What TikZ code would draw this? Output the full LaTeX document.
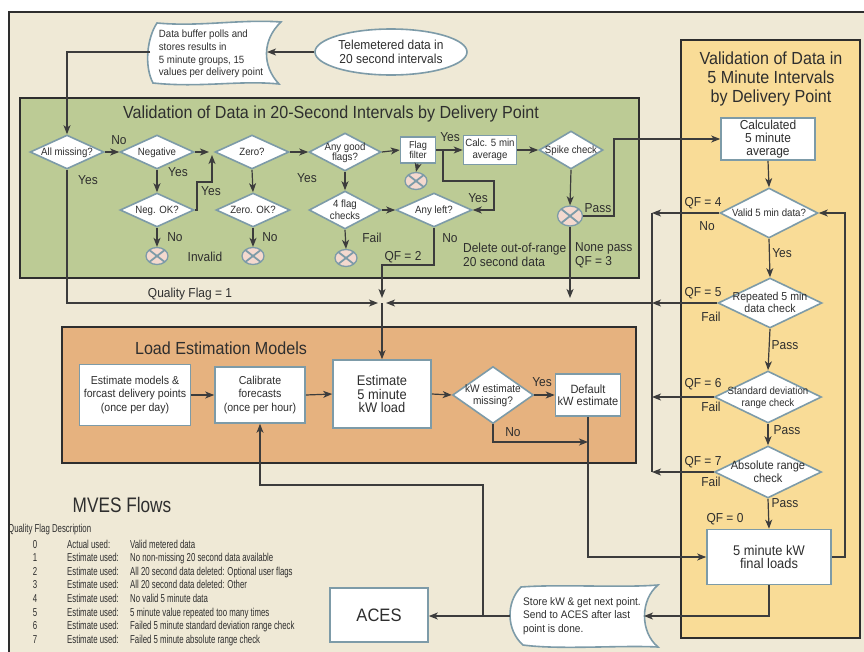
\documentclass[tikz,border=0pt]{standalone}
\usepackage{fontspec}
\setmainfont{Liberation Sans}[FakeStretch=0.92]
\newfontfamily\legendfont{Liberation Sans}[FakeStretch=0.68]
\newfontfamily\narrowfont{Liberation Sans}[FakeStretch=0.82]
\usetikzlibrary{shapes.geometric,arrows.meta,calc}
\definecolor{bgc}{HTML}{EFE9D6}
\definecolor{greenp}{HTML}{BCCB95}
\definecolor{orangep}{HTML}{E6B27F}
\definecolor{yellowp}{HTML}{F9DC97}
\definecolor{nodeb}{HTML}{7D9BA8}
\definecolor{linec}{HTML}{3C3C3C}
\definecolor{txt}{HTML}{2E2E2E}
\definecolor{xfill}{HTML}{F4D9CF}
\definecolor{framec}{HTML}{2E2E2E}
\newcommand\dt[1]{\raisebox{-0.38em}[0pt][0pt]{\makebox[0pt]{\begin{tabular}{@{}c@{}}#1\end{tabular}}}}
\tikzset{
  panel/.style={draw=framec, line width=1.3pt},
  box/.style={draw=nodeb, fill=white, line width=1.6pt, align=center, inner sep=1pt},
  dia/.style={diamond, draw=nodeb, fill=white, line width=1.6pt, inner sep=0pt},
  xm/.style={ellipse, draw=nodeb, fill=xfill, line width=1.3pt, minimum width=22pt, minimum height=17pt, inner sep=0pt,
    path picture={\draw[nodeb, line width=1.8pt] (path picture bounding box.north west) -- (path picture bounding box.south east)
      (path picture bounding box.north east) -- (path picture bounding box.south west);}},
  arr/.style={draw=linec, line width=1.2pt, -{Stealth[length=9pt,width=7pt,inset=2.5pt]}},
  ln/.style={draw=linec, line width=1.2pt},
  lbl/.style={font=\fontsize{13}{14}\selectfont, inner sep=0pt},
  lblm/.style={font=\fontsize{13}{14}\selectfont, inner sep=0pt, align=left},
  leg/.style={font=\legendfont\fontsize{11.5}{12}\selectfont, inner sep=0pt},
}
\begin{document}
\begin{tikzpicture}[x=1pt,y=-1pt, font=\fontsize{11}{12.5}\selectfont, text=txt]
\useasboundingbox (0,0) rectangle (864,651);
\fill[white] (0,0) rectangle (864,651);
\begin{scope}
\clip (0,0) rectangle (864,651);
\draw[fill=bgc, draw=framec, line width=1.5pt] (9,12) rectangle (900,700);
\end{scope}

% panels
\draw[panel, fill=greenp] (20,98) rectangle (639,278);
\draw[panel, fill=orangep] (62,327) rectangle (636,463);
\draw[panel, fill=yellowp] (681,40) rectangle (860,638);

% titles
\node[font=\fontsize{17.5}{20}\selectfont] (t20) at (331,114) {Validation of Data in 20-Second Intervals by Delivery Point};
\node[font=\fontsize{17.5}{19}\selectfont, align=center] (t5) at (771,79) {Validation of Data in\\5 Minute Intervals\\by Delivery Point};
\node[font=\fontsize{17.5}{20}\selectfont] (tl) at (221,348) {Load Estimation Models};

% top inputs
\draw[draw=nodeb, fill=white, line width=1.6pt] (157,23) .. controls (200,27) and (240,19) .. (281,22)
  .. controls (262,40) and (262,66) .. (279,84) .. controls (240,80) and (200,88) .. (153,83)
  .. controls (144,66) and (147,38) .. (157,23) -- cycle;
\node[align=left, font=\fontsize{10.5}{12.7}\selectfont, inner sep=0pt] (buf) at (211,54) {Data buffer polls and\\stores results in\\5 minute groups, 15\\values per delivery point};
\coordinate (bufL) at (150,52);
\coordinate (bufR) at (267,52);
\node[ellipse, draw=nodeb, fill=white, line width=1.6pt, minimum width=152pt, minimum height=46pt, inner sep=0pt, align=center, font=\fontsize{13}{14}\selectfont] (ell) at (391,52) {Telemetered data in\\20 second intervals};

% green panel nodes
\begin{scope}[font=\fontsize{10.5}{11.5}\selectfont]
\node[dia, minimum width=74pt, minimum height=34pt] (allm) at (67,152) {\dt{All missing?}};
\node[dia, minimum width=74pt, minimum height=34pt] (neg) at (157,152) {\dt{Negative}};
\node[dia, minimum width=74pt, minimum height=34pt] (negok) at (157,210) {\dt{Neg. OK?}};
\node[dia, minimum width=74pt, minimum height=34pt] (zero) at (252,152) {\dt{Zero?}};
\node[dia, minimum width=74pt, minimum height=34pt] (zerook) at (253,210) {\dt{Zero. OK?}};
\node[dia, minimum width=72pt, minimum height=38pt, font=\fontsize{10.5}{10.5}\selectfont] (good) at (345,152) {\dt{Any good\\flags?}};
\node[dia, minimum width=72pt, minimum height=38pt, font=\fontsize{10.5}{11.5}\selectfont] (four) at (345,210) {\dt{4 flag\\checks}};
\node[dia, minimum width=76pt, minimum height=34pt] (anyl) at (434,210) {\dt{Any left?}};
\node[dia, minimum width=64pt, minimum height=38pt] (spike) at (571,150) {\dt{Spike check}};
\node[box, minimum width=35pt, minimum height=26pt, inner sep=0pt, font=\fontsize{10}{10.5}\selectfont] (ff) at (418,150) {Flag\\filter};
\node[box, minimum width=53pt, minimum height=29pt] (calc) at (490,150) {Calc. 5 min\\average};
\end{scope}
\node[xm] (x1) at (157,256) {};
\node[xm] (x2) at (253,256) {};
\node[xm] (x3) at (416,181) {};
\node[xm] (x4) at (346,258) {};
\node[xm, minimum width=25pt, minimum height=20pt] (x5) at (570,216) {};

% yellow panel nodes
\node[box, minimum width=94pt, minimum height=42pt, font=\fontsize{13}{13.3}\selectfont] (calc5) at (768,139) {Calculated\\5 minute\\average};
\node[dia, minimum width=98pt, minimum height=50pt, font=\fontsize{10.5}{11.5}\selectfont] (valid) at (769,213) {\dt{Valid 5 min data?}};
\node[dia, minimum width=104pt, minimum height=50pt, font=\fontsize{11.5}{12}\selectfont] (rep) at (770,303) {\dt{Repeated 5 min\\data check}};
\node[dia, minimum width=107pt, minimum height=52pt, font=\fontsize{10.5}{12}\selectfont] (std) at (768,397) {\dt{Standard deviation\\range check}};
\node[dia, minimum width=107pt, minimum height=52pt, font=\fontsize{12}{12.5}\selectfont] (abs) at (768,472) {\dt{Absolute range\\check}};
\node[box, minimum width=124pt, minimum height=55pt, font=\fontsize{14}{13}\selectfont] (final) at (769,557) {5 minute kW\\final loads};

% orange panel nodes
\node[box, minimum width=111pt, minimum height=61pt, font=\fontsize{11.5}{13.5}\selectfont] (em) at (135,395) {Estimate models \&\\forcast delivery points\\(once per day)};
\node[box, minimum width=90pt, minimum height=56pt, font=\fontsize{11.5}{13.5}\selectfont] (cal) at (260,395) {Calibrate\\forecasts\\(once per hour)};
\node[box, minimum width=98pt, minimum height=68pt, font=\fontsize{14}{13.5}\selectfont] (est5) at (382,394) {Estimate\\5 minute\\kW load};
\node[dia, minimum width=81pt, minimum height=57pt, font=\fontsize{11}{12}\selectfont] (kwm) at (493,395) {\dt{kW estimate\\missing?}};
\node[box, minimum width=65pt, minimum height=42pt, inner sep=0pt, font=\fontsize{12}{12.5}\selectfont] (def) at (588,395) {Default\\kW estimate};

% bottom nodes
\node[box, minimum width=98pt, minimum height=54pt, font=\fontsize{18}{20}\selectfont] (aces) at (379,615) {ACES};
\draw[draw=nodeb, fill=white, line width=1.6pt] (521,587) .. controls (560,584) and (620,588) .. (658,585)
  .. controls (640,600) and (640,632) .. (658,647) .. controls (620,645) and (560,650) .. (523,645)
  .. controls (506,630) and (506,602) .. (521,587) -- cycle;
\node[align=left, font=\fontsize{11}{13.5}\selectfont, inner sep=0pt] (store) at (582,616) {Store kW \& get next point.\\Send to ACES after last\\point is done.};
\coordinate (storeL) at (510,616);
\coordinate (storeR) at (644,616);

% junction coordinates
\coordinate (jn) at (382,303);
\coordinate (jL) at (378,303);
\coordinate (jR) at (386,303);
\coordinate (jT) at (382,298);
\coordinate (rl) at (652,300);
\coordinate (pp) at (614,216);
\coordinate (rr) at (845,400);
\coordinate (rb) at (483,616);
\coordinate (dn) at (588,442);

% connectors top
\draw[arr] (ell.west) -- (bufR);
\draw[arr] (bufL) -| (allm.north);

% green connectors
\draw[arr] (allm.east) -- (neg.west);
\draw[arr] (allm.south) |- (jL);
\draw[arr] (neg.east) -- (209,152);
\draw[arr] (negok.east) -- (197,210) -- (197,182) -- (212,182) -- (212,155);
\draw[arr] (neg.south) -- (negok.north);
\draw[arr] (negok.south) -- (x1.north);
\draw[arr] (zero.south) -- (zerook.north);
\draw[arr] (zerook.south) -- (x2.north);
\draw[arr] (zero.east) -- (good.west);
\draw[arr] (good.east) -- (ff.west);
\draw[arr] (good.south) -- (four.north);
\draw[arr] (four.east) -- (anyl.west);
\draw[arr] (four.south) -- (x4.north);
\draw[arr] (ff.south) -- (x3.north);
\draw[arr] (ff.east) -- (calc.west);
\draw[arr] (443,150) -- (443,181) -- (494,181) |- (anyl.east);
\draw[arr] (calc.east) -- (spike.west);
\draw[arr] (spike.south) -- (x5.north);
\draw[arr] (x5.east) -- (pp) |- (calc5.west);
\draw[arr] (x5.south) -- (x5.south |- jT);
\draw[arr] (anyl.south) |- (382,265) -- (jT);

% right connectors
\draw[arr] (calc5.south) -- (valid.north);
\draw[arr] (valid.south) -- (rep.north);
\draw[arr] (rep.south) -- (std.north);
\draw[arr] (std.south) -- (abs.north);
\draw[arr] (abs.south) -- (final.north);
\draw[arr] (valid.west) -- (valid.west -| rl);
\draw[arr] (rep.west) -- (rep.west -| rl);
\draw[arr] (std.west) -- (std.west -| rl);
\draw[arr] (abs.west) -- (abs.west -| rl);
\draw[ln] (valid.west -| rl) -- (abs.west -| rl);
\draw[arr] (rep.west -| rl) -- (jR);
\draw[arr] (final.east) -| (rr) |- (valid.east);
\draw[arr] (final.south) |- (storeR);
\draw[arr] (storeL) -- (storeL -| aces.east);
\draw[arr] (rb) -- (483,485) -| (cal.south);

% orange connectors
\draw[arr] (jn) -- (est5.north);
\draw[arr] (em.east) -- (cal.west);
\draw[arr] (cal.east) -- (est5.west);
\draw[arr] (est5.east) -- (kwm.west);
\draw[arr] (kwm.east) -- (def.west);
\draw[arr] (kwm.south) |- (dn);
\draw[arr] (def.south) |- (final.west);

% labels
\node[lbl] (l1) at (119,140) {No};
\node[lbl] (l2) at (88,180) {Yes};
\node[lbl] (l3) at (178,172) {Yes};
\node[lbl] (l4) at (211,191) {Yes};
\node[lbl] (l5) at (175,237) {No};
\node[lbl] (l6) at (205,257) {Invalid};
\node[lbl] (l7) at (270,237) {No};
\node[lbl] (l8) at (307,178) {Yes};
\node[lbl] (l9) at (450,137) {Yes};
\node[lbl] (l10) at (478,198) {Yes};
\node[lbl] (l11) at (372,238) {Fail};
\node[lbl] (l12) at (450,238) {No};
\node[lbl] (l13) at (403,257) {QF = 2};
\node[lblm, anchor=west] (l14) at (463,255) {Delete out-of-range\\20 second data};
\node[lbl] (l15) at (598,208) {Pass};
\node[lblm, anchor=west] (l16) at (575,255) {None pass\\QF = 3};
\node[lbl] (l17) at (190,294) {Quality Flag = 1};
\node[lbl] (l18) at (703,203) {QF = 4};
\node[lbl] (l19) at (707,226) {No};
\node[lbl] (l20) at (782,253) {Yes};
\node[lbl] (l21) at (703,293) {QF = 5};
\node[lbl] (l22) at (711,317) {Fail};
\node[lbl] (l23) at (785,345) {Pass};
\node[lbl] (l24) at (703,384) {QF = 6};
\node[lbl] (l25) at (711,407) {Fail};
\node[lbl] (l26) at (787,430) {Pass};
\node[lbl] (l27) at (703,462) {QF = 7};
\node[lbl] (l28) at (711,482) {Fail};
\node[lbl] (l29) at (785,503) {Pass};
\node[lbl] (l30) at (725,519) {QF = 0};
\node[lbl] (l31) at (542,382) {Yes};
\node[lbl] (l32) at (513,432) {No};

% legend
\node[font=\narrowfont\fontsize{21}{24}\selectfont, anchor=base, inner sep=0pt] (mves) at (122,512) {MVES Flows};
\node[leg, anchor=base west] (qfd) at (8,532) {Quality Flag Description};
\foreach \n/\u/\d [count=\i from 0] in {
  0/Actual used:/Valid metered data,
  1/Estimate used:/No non-missing 20 second data available,
  2/Estimate used:/All 20 second data deleted: Optional user flags,
  3/Estimate used:/All 20 second data deleted: Other,
  4/Estimate used:/No valid 5 minute data,
  5/Estimate used:/5 minute value repeated too many times,
  6/Estimate used:/Failed 5 minute standard deviation range check,
  7/Estimate used:/Failed 5 minute absolute range check}{
  \pgfmathsetmacro\yy{548+13.6*\i}
  \node[leg, anchor=base] (q\i) at (35,\yy) {\n};
  \node[leg, anchor=base west] (u\i) at (67,\yy) {\u};
  \node[leg, anchor=base west] (d\i) at (130,\yy) {\d};
}
\end{tikzpicture}
\end{document}
